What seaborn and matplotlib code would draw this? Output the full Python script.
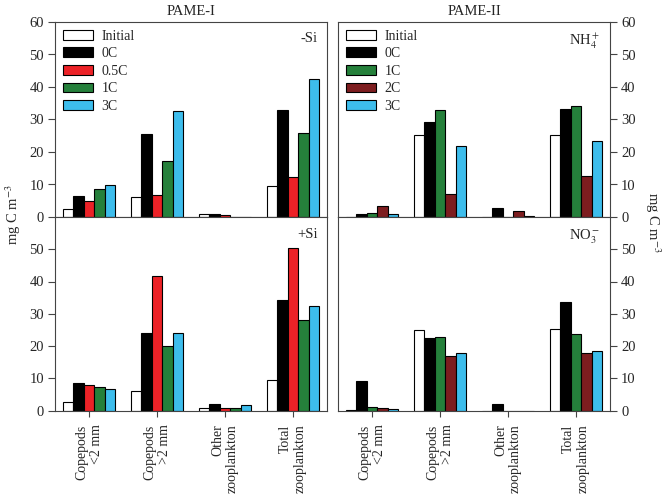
import matplotlib
matplotlib.use("Agg")
import matplotlib.pyplot as plt
import seaborn as sns
import pandas as pd

# categories
groups = ["Copepods\n<2 mm", "Copepods\n>2 mm", "Other\nzooplankton", "Total\nzooplankton"]
pame1_treat = ["Initial", "0C", "0.5C", "1C", "3C"]
pame2_treat = ["Initial", "0C", "1C", "2C", "3C"]

# PAME-I, -Si  (one list per treatment, values per group)
minus_si = {
    "Initial": [2.6, 6.0, 1.0, 9.4],
    "0C": [6.5, 25.6, 0.9, 32.9],
    "0.5C": [4.8, 6.9, 0.7, 12.4],
    "1C": [8.7, 17.1, 0.0, 25.7],
    "3C": [9.7, 32.7, 0.0, 42.4],
}
# PAME-I, +Si
plus_si = {
    "Initial": [2.5, 6.0, 0.9, 9.4],
    "0C": [8.6, 24.0, 1.9, 34.4],
    "0.5C": [8.0, 41.6, 0.7, 50.3],
    "1C": [7.2, 20.0, 0.9, 28.1],
    "3C": [6.6, 24.0, 1.6, 32.3],
}
# PAME-II, NH4+
nh4 = {
    "Initial": [0.0, 25.1, 0.0, 25.2],
    "0C": [1.0, 29.1, 2.7, 33.1],
    "1C": [1.2, 32.8, 0.0, 34.2],
    "2C": [3.4, 7.2, 1.8, 12.6],
    "3C": [0.8, 21.9, 0.4, 23.4],
}
# PAME-II, NO3-
no3 = {
    "Initial": [0.2, 25.1, 0.0, 25.3],
    "0C": [9.1, 22.5, 2.1, 33.5],
    "1C": [1.1, 22.7, 0.0, 23.8],
    "2C": [0.9, 17.0, 0.0, 17.7],
    "3C": [0.5, 17.8, 0.0, 18.5],
}

colors = {
    "Initial": "#ffffff",
    "0C": "#000000",
    "0.5C": "#ec2227",
    "1C": "#25803b",
    "2C": "#7d1d1f",
    "3C": "#3dbdec",
}

sns.set_style("ticks")
plt.rcParams["font.family"] = ["Liberation Serif", "DejaVu Serif"]
plt.rcParams["mathtext.fontset"] = "stix"
plt.rcParams["font.size"] = 10

fig = plt.figure(figsize=(6.66, 4.94), dpi=100)

L = [55 / 666, 338 / 666]
W = 272 / 666
B = [1 - 217 / 494, 1 - 410.5 / 494]
H = [195 / 494, 193.5 / 494]

panels = [
    (0, 0, minus_si, pame1_treat, "-Si"),
    (0, 1, plus_si, pame1_treat, "+Si"),
    (1, 0, nh4, pame2_treat, r"NH$_4^+$"),
    (1, 1, no3, pame2_treat, r"NO$_3^-$"),
]

spine_col = "#444444"

for col, row, vals, treat, tag in panels:
    ax = fig.add_axes([L[col], B[row], W, H[row]])
    rows = []
    for t in treat:
        for g, v in zip(groups, vals[t]):
            rows.append({"group": g, "treat": t, "value": v})
    df = pd.DataFrame(rows)
    sns.barplot(data=df, x="group", y="value", hue="treat", order=groups,
                hue_order=treat, palette=colors, width=0.76, errorbar=None,
                saturation=1, edgecolor="black", linewidth=0.8, ax=ax,
                legend=(row == 0))
    ax.set_xlim(-0.5, 3.5)
    ax.set_ylim(0, 60)
    ax.set_xlabel("")
    ax.set_ylabel("")
    for s in ax.spines.values():
        s.set_color(spine_col)
        s.set_linewidth(0.8)
    if row == 0:
        ax.set_yticks([0, 10, 20, 30, 40, 50, 60])
        ax.set_xticklabels([])
        h, lab = ax.get_legend_handles_labels()
        ax.legend(h, lab, loc="upper left", frameon=False, fontsize=10,
                  handlelength=2.2, handleheight=0.7, labelspacing=0.33,
                  handletextpad=0.6, borderaxespad=0.25, borderpad=0.3)
    else:
        ax.set_yticks([0, 10, 20, 30, 40, 50])
        ax.set_xticks(range(len(groups)))
        ax.set_xticklabels(groups, rotation=90, ha="center", va="top",
                           multialignment="right", fontsize=10)
    ax.tick_params(axis="x", direction="out", length=4, width=0.8,
                   color=spine_col, pad=6)
    ax.tick_params(axis="y", direction="out", length=5, width=0.8,
                   color=spine_col, labelsize=10.5, pad=3)
    if col == 1:
        ax.yaxis.tick_right()
    ax.text(0.965, 0.95 if row == 0 else 0.945, tag, transform=ax.transAxes,
            ha="right", va="top", fontsize=10.5)
    if row == 0:
        ax.set_title("PAME-I" if col == 0 else "PAME-II", fontsize=10.5, pad=5)

fig.text(0.02, 0.565, r"mg C m$^{-3}$", rotation=90, ha="center", va="center", fontsize=10.5)
fig.text(0.98, 0.55, r"mg C m$^{-3}$", rotation=270, ha="center", va="center", fontsize=10.5)

fig.savefig("out.png", dpi=100)
